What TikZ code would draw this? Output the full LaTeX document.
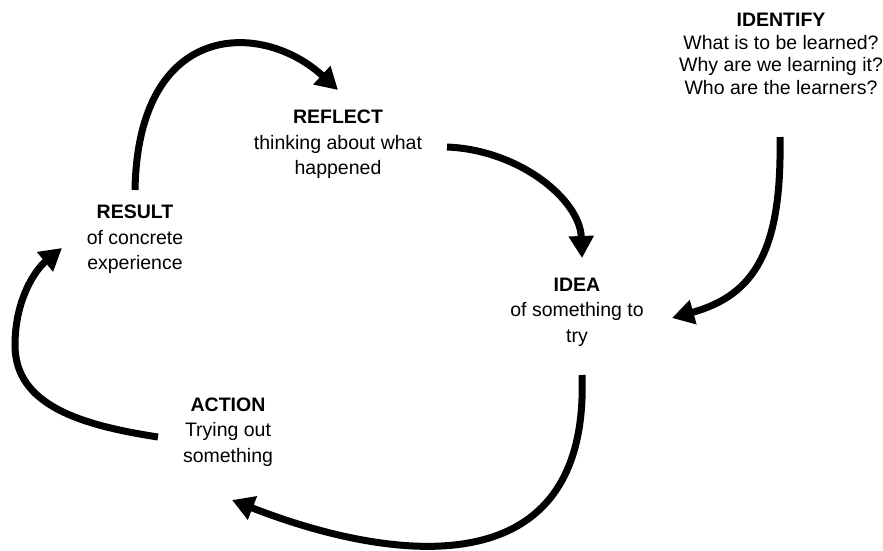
\documentclass[tikz,border=0pt]{standalone}
\usepackage{fontspec}
\setmainfont{Liberation Sans}
\usetikzlibrary{arrows.meta,calc}
\tikzstyle{stage}=[align=center,inner sep=0,font={\fontsize{19.5}{25.5}\selectfont}]
\tikzstyle{goal}=[align=center,inner sep=0,font={\fontsize{19.5}{22.6}\selectfont}]
\tikzstyle{cyc}=[line width=7pt,-{Triangle[length=22pt,width=24pt]}]

\begin{document}
\begin{tikzpicture}[x=1pt,y=-1pt]
	\useasboundingbox (0,0) rectangle (883,550);

                        \node[goal] (identify) at (781,54) {\textbf{IDENTIFY}\\What is to be learned?\\Why are we learning it?\\Who are the learners?};
                        \node[stage] (reflect) at (338,144.5) {\textbf{REFLECT}\\thinking about what\\happened};
                        \node[stage] (result) at (135,239.5) {\textbf{RESULT}\\of concrete\\experience};
                        \node[stage] (idea) at (577,312) {\textbf{IDEA}\\of something to\\try};
                        \node[stage] (action) at (228,432) {\textbf{ACTION}\\Trying out\\something};

                        \draw[cyc] ($(result)+(0,-49.5)$) .. controls (138,20) and (262,20) .. ($(reflect)+(0,-54.5)$);
                        \draw[cyc] ($(reflect)+(109,2.5)$) .. controls (520,150) and (580,200) .. ($(idea)+(5,-54)$);
                        \draw[cyc] ($(identify)+(-1,83)$) .. controls (782,250) and (755,295) .. ($(idea)+(95,6)$);
                        \draw[cyc] ($(idea)+(5,63)$) .. controls (590,596) and (380,558) .. ($(action)+(4,68)$);
                        \draw[cyc] ($(action)+(-70,5)$) .. controls (80,425) and (15,405) .. (15,345)
                        .. controls (15,300) and (35,270) .. ($(result)+(-73,8.5)$);

\end{tikzpicture}
\end{document}
